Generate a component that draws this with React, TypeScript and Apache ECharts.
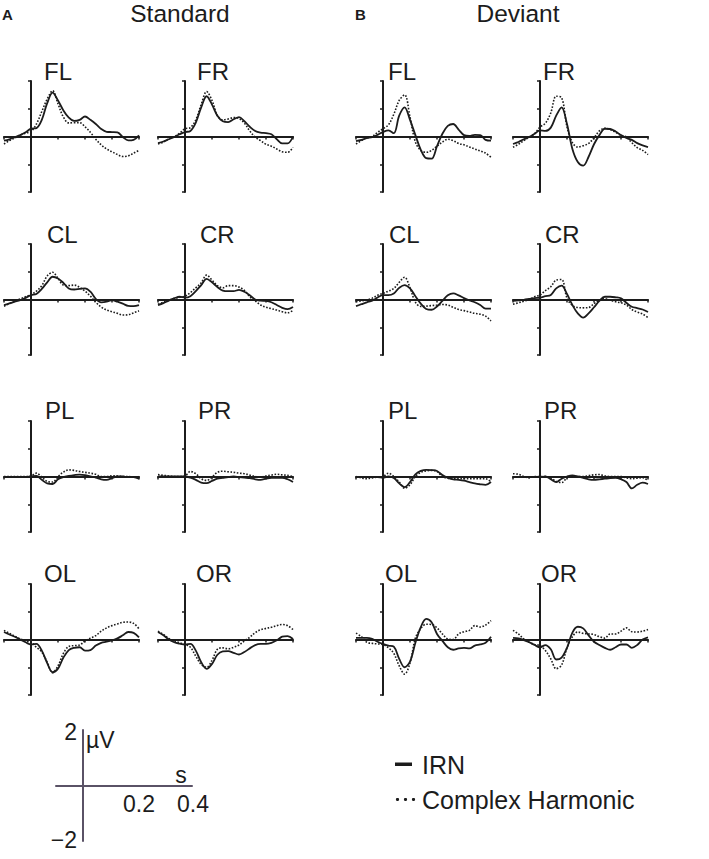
import React, { useEffect, useRef } from 'react';
import * as echarts from 'echarts';

// time axis (s) and sampled waveforms (µV)
const TIME = [-0.1, -0.08, -0.06, -0.04, -0.02, 0, 0.02, 0.04, 0.06, 0.08, 0.1, 0.12, 0.14, 0.16, 0.18, 0.2, 0.22, 0.24, 0.26, 0.28, 0.3, 0.32, 0.34, 0.36, 0.38, 0.4];
const ELECTRODES = ['FL', 'FR', 'CL', 'CR', 'PL', 'PR', 'OL', 'OR'];
const CONDITIONS = ['Standard', 'Deviant'];
const SERIES_NAMES = ['IRN', 'Complex Harmonic'];
const X_TICK_LABELS = ['0.2', '0.4'];
const Y_TICK_LABELS = ['2', '−2'];

// Standard
const STD_FL_IRN = [-0.15, -0.1, -0.02, 0.05, 0.15, 0.28, 0.3, 0.6, 1.2, 1.58, 1.3, 0.94, 0.68, 0.56, 0.6, 0.72, 0.6, 0.45, 0.27, 0.17, 0.16, 0.15, -0.02, -0.14, -0.12, 0.04];
const STD_FL_CH = [-0.27, -0.15, -0.05, 0.05, 0.12, 0.18, 0.45, 0.9, 1.35, 1.65, 1.18, 0.7, 0.49, 0.5, 0.5, 0.35, 0.15, -0.1, -0.3, -0.45, -0.55, -0.65, -0.72, -0.7, -0.6, -0.5];
const STD_FR_IRN = [-0.24, -0.18, -0.1, -0.02, 0.08, 0.16, 0.2, 0.5, 1.05, 1.45, 1.15, 0.75, 0.55, 0.52, 0.62, 0.7, 0.55, 0.35, 0.2, 0.14, 0.12, 0.08, -0.1, -0.25, -0.25, 0];
const STD_FR_CH = [-0.27, -0.2, -0.08, 0, 0.12, 0.28, 0.32, 0.6, 1.15, 1.62, 1.3, 0.75, 0.6, 0.63, 0.68, 0.65, 0.48, 0.2, -0.02, -0.15, -0.28, -0.35, -0.45, -0.55, -0.57, -0.39];
const STD_CL_IRN = [-0.2, -0.14, -0.08, -0.02, 0.06, 0.16, 0.2, 0.38, 0.62, 0.82, 0.76, 0.6, 0.4, 0.36, 0.38, 0.4, 0.28, 0.02, -0.1, -0.08, -0.02, -0.08, -0.15, -0.23, -0.24, -0.2];
const STD_CL_CH = [-0.24, -0.15, -0.06, 0.02, 0.1, 0.18, 0.3, 0.5, 0.85, 0.98, 0.76, 0.52, 0.5, 0.52, 0.44, 0.3, 0.12, -0.1, -0.27, -0.38, -0.44, -0.5, -0.56, -0.55, -0.48, -0.41];
const STD_CR_IRN = [-0.2, -0.13, -0.04, 0.04, 0.1, 0.07, 0.12, 0.3, 0.52, 0.74, 0.62, 0.45, 0.32, 0.3, 0.3, 0.35, 0.28, 0.15, 0, -0.04, -0.05, -0.1, -0.2, -0.3, -0.35, -0.27];
const STD_CR_CH = [-0.17, -0.1, -0.02, 0.04, 0.08, 0.12, 0.25, 0.42, 0.6, 0.88, 0.7, 0.5, 0.42, 0.5, 0.5, 0.45, 0.33, 0.1, -0.05, -0.2, -0.28, -0.33, -0.38, -0.44, -0.48, -0.39];
const STD_PL_IRN = [-0.02, -0.02, -0.02, -0.02, -0.02, 0, 0.02, -0.12, -0.25, -0.27, -0.1, -0.02, 0.02, 0.05, 0.07, 0.05, 0, -0.04, -0.1, -0.12, -0.06, 0, 0, -0.02, -0.02, -0.08];
const STD_PL_CH = [0, 0, 0, 0, 0, 0.02, 0.12, -0.02, -0.18, -0.2, 0, 0.16, 0.24, 0.22, 0.18, 0.15, 0.12, 0.08, 0, 0, 0.03, 0.02, 0, 0, -0.02, 0];
const STD_PR_IRN = [0, 0, 0, 0, 0, 0, -0.04, -0.12, -0.22, -0.24, -0.16, -0.08, -0.05, -0.02, 0, -0.02, -0.04, -0.06, -0.1, -0.12, -0.08, -0.05, -0.05, -0.05, -0.1, -0.2];
const STD_PR_CH = [0.07, 0.04, 0.02, 0, 0, 0.02, 0.18, 0.1, -0.08, -0.14, -0.02, 0.15, 0.19, 0.17, 0.15, 0.12, 0.1, 0.05, 0, -0.02, 0.02, 0.05, 0.08, 0.06, 0.04, 0];
const STD_OL_IRN = [0.27, 0.18, 0.1, 0, -0.1, -0.18, -0.16, -0.4, -0.85, -1.18, -1.05, -0.65, -0.38, -0.3, -0.28, -0.4, -0.38, -0.22, -0.12, -0.08, -0.03, 0.04, 0.15, 0.27, 0.24, 0.08];
const STD_OL_CH = [0.33, 0.22, 0.12, 0.02, -0.05, -0.1, -0.28, -0.45, -0.82, -1.2, -0.95, -0.5, -0.25, -0.22, -0.2, -0.05, 0.05, 0.14, 0.3, 0.42, 0.5, 0.56, 0.62, 0.63, 0.58, 0.39];
const STD_OR_IRN = [0.27, 0.15, 0, -0.1, -0.15, -0.18, -0.16, -0.4, -0.82, -1.06, -0.88, -0.55, -0.43, -0.42, -0.48, -0.54, -0.45, -0.32, -0.2, -0.16, -0.16, -0.12, -0.03, 0.1, 0.12, 0.02];
const STD_OR_CH = [0.3, 0.18, 0.04, -0.05, -0.12, -0.18, -0.28, -0.6, -0.9, -1, -0.75, -0.35, -0.3, -0.34, -0.28, -0.2, -0.05, 0.08, 0.25, 0.35, 0.4, 0.44, 0.5, 0.54, 0.5, 0.36];

// Deviant
const DEV_FL_IRN = [-0.17, -0.12, -0.06, -0.02, 0.06, 0.16, 0.22, 0.12, 0.75, 1.05, 0.6, 0.05, -0.48, -0.78, -0.8, -0.35, 0.1, 0.38, 0.45, 0.25, 0.05, 0.02, 0.06, 0.05, -0.12, -0.15];
const DEV_FL_CH = [-0.27, -0.15, -0.05, 0, 0.15, 0.28, 0.42, 0.8, 1.3, 1.5, 0.7, -0.2, -0.5, -0.57, -0.5, -0.35, -0.2, -0.1, -0.15, -0.25, -0.3, -0.38, -0.45, -0.52, -0.6, -0.75];
const DEV_FR_IRN = [-0.27, -0.2, -0.1, -0.02, 0.1, 0.22, 0.2, 0.32, 0.75, 1.05, 0.45, -0.45, -0.92, -1.05, -0.73, -0.28, 0.05, 0.28, 0.27, 0.18, 0.05, -0.05, -0.12, -0.24, -0.32, -0.38];
const DEV_FR_CH = [-0.39, -0.28, -0.15, -0.02, 0.1, 0.34, 0.48, 0.85, 1.45, 1.4, 0.35, -0.22, -0.38, -0.33, -0.25, -0.05, 0.2, 0.3, 0.25, 0.15, 0.04, -0.02, -0.22, -0.4, -0.5, -0.65];
const DEV_CL_IRN = [-0.24, -0.17, -0.1, -0.04, 0.07, 0.16, 0.16, 0.22, 0.42, 0.52, 0.4, 0.12, -0.15, -0.34, -0.37, -0.25, -0.05, 0.15, 0.22, 0.15, 0.05, -0.03, -0.1, -0.2, -0.33, -0.33];
const DEV_CL_CH = [-0.08, -0.05, -0.02, 0.05, 0.15, 0.22, 0.3, 0.4, 0.62, 0.8, 0.42, -0.1, -0.25, -0.24, -0.22, -0.2, -0.18, -0.2, -0.28, -0.36, -0.4, -0.45, -0.5, -0.53, -0.6, -0.77];
const DEV_CR_IRN = [-0.05, -0.03, -0.01, 0.02, 0.05, 0.07, 0.12, 0.16, 0.4, 0.5, 0.2, -0.2, -0.5, -0.65, -0.5, -0.28, -0.05, 0.1, 0.1, 0.08, 0.04, -0.12, -0.26, -0.31, -0.36, -0.45];
const DEV_CR_CH = [-0.17, -0.12, -0.06, 0, 0.1, 0.16, 0.32, 0.46, 0.7, 0.72, 0.05, -0.22, -0.29, -0.3, -0.29, -0.15, -0.02, 0.03, -0.03, -0.08, -0.12, -0.2, -0.36, -0.45, -0.52, -0.65];
const DEV_PL_IRN = [-0.02, -0.02, -0.02, -0.02, -0.02, -0.05, 0, -0.05, -0.25, -0.38, -0.2, 0.08, 0.2, 0.24, 0.23, 0.2, 0.05, -0.05, -0.1, -0.12, -0.15, -0.2, -0.25, -0.28, -0.3, -0.2];
const DEV_PL_CH = [0, -0.05, -0.08, -0.05, -0.02, 0, 0.12, 0, -0.2, -0.42, -0.3, 0, 0.15, 0.2, 0.22, 0.18, 0, -0.06, -0.08, -0.08, -0.08, -0.08, -0.08, -0.08, -0.08, -0.2];
const DEV_PR_IRN = [-0.02, -0.02, -0.02, -0.02, -0.02, -0.02, 0, -0.1, -0.2, -0.08, 0, 0.04, 0, -0.05, -0.1, -0.12, -0.1, -0.08, -0.06, -0.05, -0.1, -0.2, -0.43, -0.3, -0.22, -0.27];
const DEV_PR_CH = [0.1, 0.08, 0, -0.05, 0, 0, 0, -0.05, -0.18, -0.22, -0.05, 0, 0, 0, 0.03, 0.06, 0.07, 0.02, 0, 0, 0, -0.05, -0.08, -0.06, -0.04, -0.15];
const DEV_OL_IRN = [0.06, 0.06, 0.06, 0.02, -0.08, -0.16, -0.22, -0.26, -0.7, -1, -0.8, -0.12, 0.45, 0.74, 0.62, 0.2, -0.05, -0.28, -0.37, -0.32, -0.3, -0.32, -0.22, -0.18, -0.12, 0.1];
const DEV_OL_CH = [0.23, 0.1, -0.1, -0.14, -0.16, -0.18, -0.3, -0.5, -0.95, -1.25, -0.85, 0.05, 0.4, 0.55, 0.54, 0.42, 0.2, 0.02, 0, 0.2, 0.28, 0.33, 0.5, 0.45, 0.52, 0.68];
const DEV_OR_IRN = [0.06, 0.04, -0.02, -0.1, -0.2, -0.28, -0.2, -0.35, -0.72, -0.65, -0.3, 0.25, 0.46, 0.4, 0.15, -0.08, -0.2, -0.3, -0.37, -0.28, -0.18, -0.18, -0.3, -0.2, 0, 0.08];
const DEV_OR_CH = [0.33, 0.2, 0.02, -0.1, -0.18, -0.22, -0.4, -0.7, -1.05, -0.92, -0.3, 0.1, 0.27, 0.22, 0.2, 0.18, 0.1, 0.05, 0.2, 0.2, 0.3, 0.42, 0.28, 0.27, 0.3, 0.36];

const PANEL_DATA: Record<string, number[][]> = {
  'Standard-FL': [STD_FL_IRN, STD_FL_CH], 'Standard-FR': [STD_FR_IRN, STD_FR_CH],
  'Standard-CL': [STD_CL_IRN, STD_CL_CH], 'Standard-CR': [STD_CR_IRN, STD_CR_CH],
  'Standard-PL': [STD_PL_IRN, STD_PL_CH], 'Standard-PR': [STD_PR_IRN, STD_PR_CH],
  'Standard-OL': [STD_OL_IRN, STD_OL_CH], 'Standard-OR': [STD_OR_IRN, STD_OR_CH],
  'Deviant-FL': [DEV_FL_IRN, DEV_FL_CH], 'Deviant-FR': [DEV_FR_IRN, DEV_FR_CH],
  'Deviant-CL': [DEV_CL_IRN, DEV_CL_CH], 'Deviant-CR': [DEV_CR_IRN, DEV_CR_CH],
  'Deviant-PL': [DEV_PL_IRN, DEV_PL_CH], 'Deviant-PR': [DEV_PR_IRN, DEV_PR_CH],
  'Deviant-OL': [DEV_OL_IRN, DEV_OL_CH], 'Deviant-OR': [DEV_OR_IRN, DEV_OR_CH],
};

// layout
const GRID_LEFT = [4, 158, 356, 513];
const GRID_TOP = [81, 244, 421, 584];
const GRID_W = 135;
const GRID_H = 111;
const LABEL_XY: Record<string, number[][]> = {
  Standard: [[44, 71], [197, 71], [47, 234], [200, 234], [45, 410], [198, 410], [44, 573], [196, 573]],
  Deviant: [[388, 71], [543, 71], [389, 234], [545, 234], [388, 410], [544, 410], [385, 573], [541, 573]],
};

const INK = '#1c1c1c';
const SCALE_INK = '#5a5266';
const FONT = "'Liberation Sans', Arial, Helvetica, sans-serif";

function text(t: string, x: number, y: number, size: number, align = 'left', weight = 'normal') {
  return {
    type: 'text', x, y, silent: true,
    style: { text: t, fontSize: size, fontFamily: FONT, fontWeight: weight, fill: INK, align, verticalAlign: 'middle' },
  };
}

function buildOption() {
  const grid: any[] = [];
  const xAxis: any[] = [];
  const yAxis: any[] = [];
  const series: any[] = [];
  const graphic: any[] = [];

  const axisCommon = (color: string, w: number, ticks: boolean) => ({
    axisLine: { show: true, onZero: true, lineStyle: { color, width: w } },
    axisTick: { show: ticks, length: 3, lineStyle: { color, width: 1.5 } },
    axisLabel: { show: false },
    splitLine: { show: false },
  });

  let gi = 0;
  CONDITIONS.forEach((cond, c) => {
    ELECTRODES.forEach((el, p) => {
      const row = Math.floor(p / 2);
      const col = p % 2;
      grid.push({ left: GRID_LEFT[c * 2 + col], top: GRID_TOP[row], width: GRID_W, height: GRID_H, containLabel: false, outerBoundsMode: 'none' });
      xAxis.push({ gridIndex: gi, type: 'value', min: -0.1, max: 0.4, interval: 0.1, ...axisCommon(INK, 2, true) });
      yAxis.push({ gridIndex: gi, type: 'value', min: -2, max: 2, interval: 1, ...axisCommon(INK, 2, true) });
      const [irn, ch] = PANEL_DATA[`${cond}-${el}`];
      series.push({
        name: SERIES_NAMES[0], type: 'line', xAxisIndex: gi, yAxisIndex: gi, symbol: 'none', smooth: 0.35,
        data: TIME.map((t, k) => [t, irn[k]]), lineStyle: { color: INK, width: 1.8 }, z: 3,
      });
      series.push({
        name: SERIES_NAMES[1], type: 'line', xAxisIndex: gi, yAxisIndex: gi, symbol: 'none', smooth: 0.35,
        data: TIME.map((t, k) => [t, ch[k]]), lineStyle: { color: INK, width: 1.6, type: [1.6, 1.6] }, z: 3,
      });
      const [lx, ly] = LABEL_XY[cond][p];
      graphic.push(text(el, lx, ly, 24));
      gi++;
    });
  });

  // scale bar
  grid.push({ left: 56, top: 730, width: 136, height: 111, containLabel: false, outerBoundsMode: 'none' });
  xAxis.push({ gridIndex: gi, type: 'value', min: -0.1, max: 0.4, interval: 0.1, ...axisCommon(SCALE_INK, 2, false) });
  yAxis.push({ gridIndex: gi, type: 'value', min: -2, max: 2, interval: 1, ...axisCommon(SCALE_INK, 2, false) });
  graphic.push(text(Y_TICK_LABELS[0], 77, 732, 23, 'right'));
  graphic.push(text(Y_TICK_LABELS[1], 77, 840, 23, 'right'));
  graphic.push(text(X_TICK_LABELS[0], 139, 804, 23, 'center'));
  graphic.push(text(X_TICK_LABELS[1], 193, 804, 23, 'center'));
  graphic.push(text('µV', 86, 740, 23));
  graphic.push(text('s', 181, 775, 23, 'center'));

  graphic.push(text('A', 2, 14.5, 15, 'left', 'bold'));
  graphic.push(text('B', 355, 14.5, 15, 'left', 'bold'));
  graphic.push(text(CONDITIONS[0], 180, 13, 24.5, 'center'));
  graphic.push(text(CONDITIONS[1], 518, 13, 24.5, 'center'));

  // legend
  graphic.push({ type: 'rect', shape: { x: 395, y: 762.5, width: 17, height: 3.5 }, style: { fill: INK }, silent: true });
  [397.5, 405.5, 413.5].forEach((cx) =>
    graphic.push({ type: 'circle', shape: { cx, cy: 799.5, r: 1.6 }, style: { fill: INK }, silent: true })
  );
  graphic.push(text(SERIES_NAMES[0], 422, 765, 25));
  graphic.push(text(SERIES_NAMES[1], 422, 800, 25));

  return { animation: false, backgroundColor: '#ffffff', grid, xAxis, yAxis, series, graphic };
}

export default function App() {
  const ref = useRef<HTMLDivElement>(null);
  useEffect(() => {
    if (!ref.current) return;
    const chart = echarts.init(ref.current, undefined, { renderer: 'svg' });
    chart.setOption(buildOption() as any);
    return () => chart.dispose();
  }, []);
  return <div ref={ref} style={{ position: 'absolute', left: 0, top: 0, width: 709, height: 859 }} />;
}
